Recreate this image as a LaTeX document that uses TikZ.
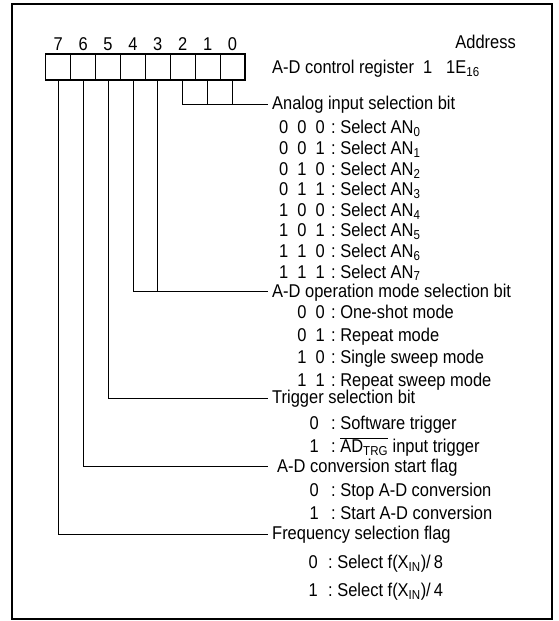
\documentclass[tikz,border=0pt]{standalone}
\usepackage{fontspec}
\setmainfont{Liberation Sans}[FakeStretch=0.89]
\usetikzlibrary{positioning}
\newcommand{\sbs}[1]{\textsubscript{#1}}

\begin{document}
\begin{tikzpicture}[
    x=1pt, y=-1pt,
    font=\fontsize{18.5}{21}\selectfont,
    cell/.style={draw, line width=0.6pt, minimum width=24.9pt, minimum height=26pt, inner sep=0pt, outer sep=0pt},
    num/.style={inner sep=0pt},
    lbl/.style={anchor=west, inner xsep=4.5pt, inner ysep=0pt, text height=13pt, text depth=2pt},
    val/.style={inner sep=0pt, text height=13pt, text depth=2pt},
    desc/.style={anchor=west, inner sep=0pt, text height=13pt, text depth=2pt},
    conn/.style={line width=0.8pt},
  ]
  \useasboundingbox (0,0) rectangle (558,621);
  \draw[line width=1.6pt] (12,4) rectangle (552,619);

  % register, bit 7 ... bit 0
  \node[cell] (c7) at (58.2,67) {};
  \node[cell, right=0pt of c7] (c6) {};
  \node[cell, right=0pt of c6] (c5) {};
  \node[cell, right=0pt of c5] (c4) {};
  \node[cell, right=0pt of c4] (c3) {};
  \node[cell, right=0pt of c3] (c2) {};
  \node[cell, right=0pt of c2] (c1) {};
  \node[cell, right=0pt of c1] (c0) {};
  \draw[line width=1.4pt] (c7.north west) rectangle (c0.south east);
  \node[num, above=3pt of c7] (n7) {7};
  \node[num, above=3pt of c6] (n6) {6};
  \node[num, above=3pt of c5] (n5) {5};
  \node[num, above=3pt of c4] (n4) {4};
  \node[num, above=3pt of c3] (n3) {3};
  \node[num, above=3pt of c2] (n2) {2};
  \node[num, above=3pt of c1] (n1) {1};
  \node[num, above=3pt of c0] (n0) {0};

  \node[anchor=east, inner sep=0pt] (addr) at (516,42) {Address};
  \node[lbl] (reg) at (267.5,68) {A-D control register\ \ 1};
  \node[lbl, inner xsep=0pt] (regadr) at (446,68) {1E\sbs{16}};

  % analog input selection bit
  \node[lbl] (ana) at (267.5,104) {Analog input selection bit};
  \node[desc] (a0) at (331,128.3) {:\ Select AN\sbs{0}};
  \node[val, left=6pt of a0] (a0v) {0\ \ 0\ \ 0};
  \node[desc] (a1) at (331,148.9) {:\ Select AN\sbs{1}};
  \node[val, left=6pt of a1] (a1v) {0\ \ 0\ \ 1};
  \node[desc] (a2) at (331,169.5) {:\ Select AN\sbs{2}};
  \node[val, left=6pt of a2] (a2v) {0\ \ 1\ \ 0};
  \node[desc] (a3) at (331,190.1) {:\ Select AN\sbs{3}};
  \node[val, left=6pt of a3] (a3v) {0\ \ 1\ \ 1};
  \node[desc] (a4) at (331,210.7) {:\ Select AN\sbs{4}};
  \node[val, left=6pt of a4] (a4v) {1\ \ 0\ \ 0};
  \node[desc] (a5) at (331,231.3) {:\ Select AN\sbs{5}};
  \node[val, left=6pt of a5] (a5v) {1\ \ 0\ \ 1};
  \node[desc] (a6) at (331,251.9) {:\ Select AN\sbs{6}};
  \node[val, left=6pt of a6] (a6v) {1\ \ 1\ \ 0};
  \node[desc] (a7) at (331,272.5) {:\ Select AN\sbs{7}};
  \node[val, left=6pt of a7] (a7v) {1\ \ 1\ \ 1};

  % operation mode
  \node[lbl] (opm) at (267.5,291.7) {A-D operation mode selection bit};
  \node[desc] (m0) at (331,312.7) {:\ One-shot mode};
  \node[val, left=6pt of m0] (m0v) {0\ \ 0};
  \node[desc] (m1) at (331,335.5) {:\ Repeat mode};
  \node[val, left=6pt of m1] (m1v) {0\ \ 1};
  \node[desc] (m2) at (331,358.3) {:\ Single sweep mode};
  \node[val, left=6pt of m2] (m2v) {1\ \ 0};
  \node[desc] (m3) at (331,381) {:\ Repeat sweep mode};
  \node[val, left=6pt of m3] (m3v) {1\ \ 1};

  % trigger
  \node[lbl] (trg) at (267.5,398.3) {Trigger selection bit};
  \node[desc] (t0) at (331,424.3) {:\ Software trigger};
  \node[val, left=12pt of t0] (t0v) {0};
  \node[desc] (t1) at (331,447) {:\ $\overline{\mbox{AD\sbs{TRG}}}$ input trigger};
  \node[val, left=12pt of t1] (t1v) {1};

  % start flag
  \node[lbl, inner xsep=9pt] (ads) at (268,466.7) {A-D conversion start flag};
  \node[desc] (s0) at (331,491) {:\ Stop A-D conversion};
  \node[val, left=12pt of s0] (s0v) {0};
  \node[desc] (s1) at (331,514) {:\ Start A-D conversion};
  \node[val, left=12pt of s1] (s1v) {1};

  % frequency
  \node[lbl] (frq) at (267.5,534) {Frequency selection flag};
  \node[desc] (f0) at (328,562.7) {:\ Select f(X\sbs{IN})/\,8};
  \node[val, left=10pt of f0] (f0v) {0};
  \node[desc] (f1) at (328,591) {:\ Select f(X\sbs{IN})/\,4};
  \node[val, left=10pt of f1] (f1v) {1};

  % bit lines
  \draw[conn] (c2.south) |- (ana.west);
  \draw[conn] (c1.south) -- (c1.south |- ana.west);
  \draw[conn] (c0.south) -- (c0.south |- ana.west);
  \draw[conn] (c4.south) |- (opm.west);
  \draw[conn] (c3.south) -- (c3.south |- opm.west);
  \draw[conn] (c5.south) |- (trg.west);
  \draw[conn] (c6.south) |- (ads.west);
  \draw[conn] (c7.south) |- (frq.west);
\end{tikzpicture}
\end{document}
